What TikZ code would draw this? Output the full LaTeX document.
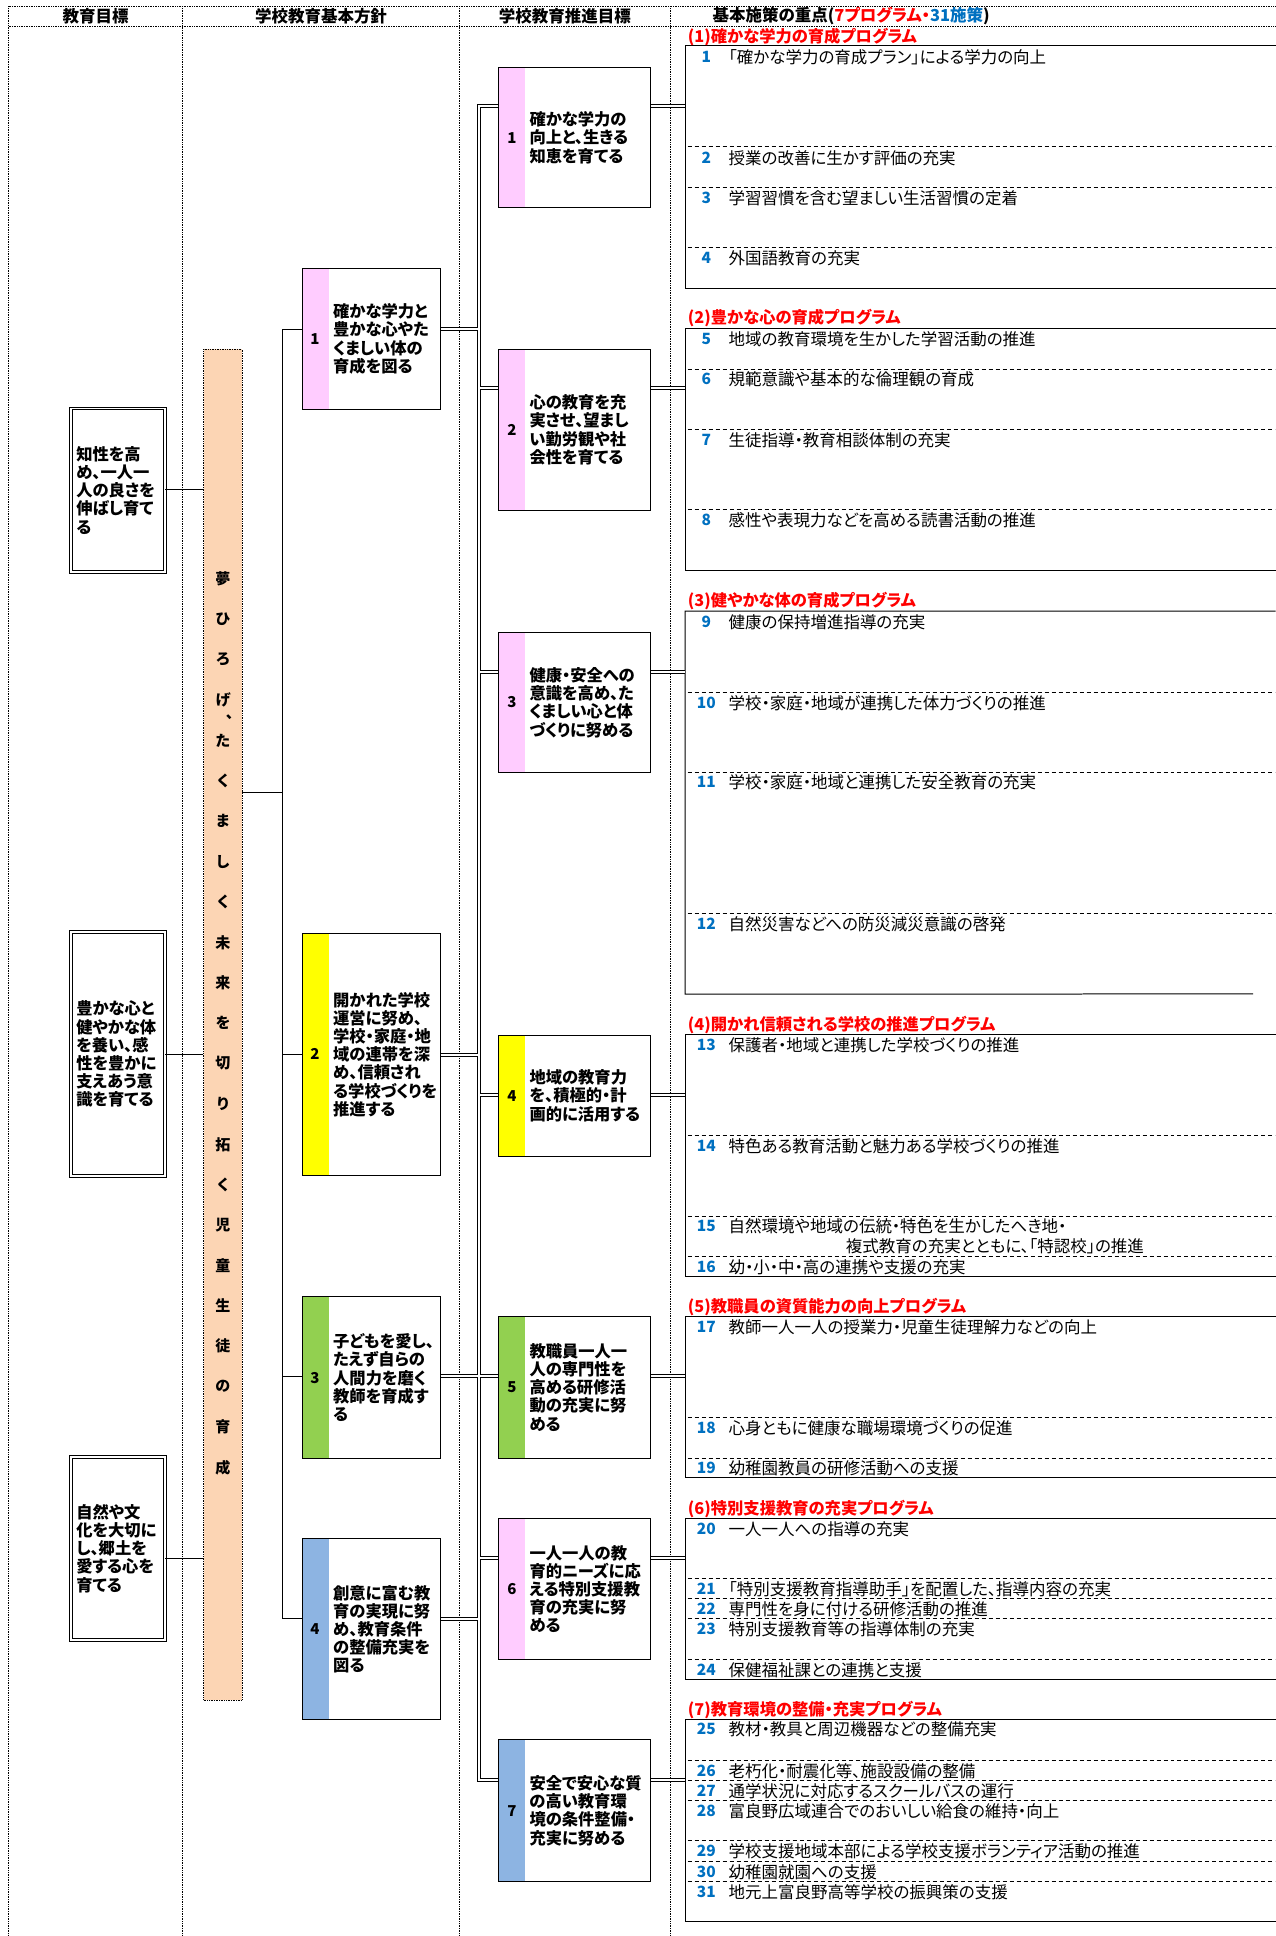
\documentclass[tikz,border=0pt]{standalone}
\usepackage{fontspec}
\setmainfont{Noto Sans CJK JP}[RawFeature=+palt]
\usepackage{xcolor}
\usetikzlibrary{positioning, fit, calc}

\definecolor{stripPink}{HTML}{FFCCFF}
\definecolor{stripYellow}{HTML}{FFFF00}
\definecolor{stripGreen}{HTML}{92D050}
\definecolor{stripBlue}{HTML}{8DB4E2}
\definecolor{barPeach}{HTML}{FCD5B4}
\definecolor{numBlue}{HTML}{0070C0}

\begin{document}
\begin{tikzpicture}[x=1.2353pt, y=-1.2353pt,
  sepline/.style={densely dotted, line width=0.7pt},
  aimbox/.style={draw, double, double distance=1.8pt, line width=1pt, inner sep=0},
  goalbox/.style={draw, line width=1pt, inner sep=0, fill=white,
    path picture={\fill[#1] (path picture bounding box.north west)
      rectangle ([xshift=26.5pt]path picture bounding box.south west);}},
  boxtext/.style={anchor=west, align=left, inner sep=0, font=\bfseries\fontsize{16.3}{18.2}\selectfont},
  boxnum/.style={inner sep=0, font=\bfseries\fontsize{15}{15}\selectfont},
  barchar/.style={inner sep=0, font=\bfseries\fontsize{15}{15}\selectfont},
  head/.style={inner sep=0, font=\bfseries\fontsize{16.5}{17}\selectfont},
  progtitle/.style={anchor=west, inner sep=0, text=red, font=\bfseries\fontsize{16.3}{16}\selectfont},
  itemnum/.style={inner sep=0, text=numBlue, font=\bfseries\fontsize{15.5}{15.5}\selectfont,
                  text height=12pt, text depth=2pt},
  itemtext/.style={anchor=west, inner sep=0, font=\fontsize{16.5}{16.5}\selectfont,
                   text height=14pt, text depth=2pt},
  divider/.style={dash pattern=on 4pt off 3pt, line width=0.8pt},
  link/.style={line width=1pt},
  dbl/.style={double, double distance=1.8pt, line width=1pt}
]
\useasboundingbox (0,0) rectangle (1033,1568);

% header and column rules
\draw[sepline] (7,5) -- (1033,5) (7,21) -- (1033,21);
\foreach \x in {7,148,372,543} \draw[sepline] (\x,5) -- (\x,1568);
\node[head] (hd1) at (77.5,13) {教育目標};
\node[head] (hd2) at (260,13) {学校教育基本方針};
\node[head] (hd3) at (457.5,13) {学校教育推進目標};
\node[head, anchor=west] (hd4) at (577,13)
  {基本施策の重点(\textcolor{red}{7プログラム・}\textcolor{numBlue}{31施策})};

% anchor points of the connectors
\coordinate (lb) at (228.5,642);
\foreach \k/\y in {1/266.6, 2/854.4, 3/1114.5, 4/1311} {
  \coordinate (e\k) at (228.5,\y);
  \coordinate (d\k) at (387.8,\y);
}
\foreach \k/\y in {1/86, 2/314, 3/544, 4/886.7, 5/1114.5, 6/1262, 7/1441.8}
  \coordinate (c\k) at (387.8,\y);

% vision bar
\node[fit={(165,283) (196,1377)}, inner sep=0, fill=barPeach, draw, densely dotted,
      line width=0.7pt] (vision) {};
\foreach \ch [count=\i from 0] in {夢,ひ,ろ,げ,た,く,ま,し,く,未,来,を,切,り,拓,く,児,童,生,徒,の,育,成}
  \node[barchar] (ch\i) at (180.5,469+32.7*\i) {\ch};
\node[barchar] (chc) at (186,581) {、};

% 教育目標
\node[aimbox, fit={(57.8,330.8) (133.6,463.3)}] (aim1) {};
\node[boxtext] (atx1) at ([xshift=5.2pt]aim1.west) {知性を高\\め、一人一\\人の良さを\\伸ばし育て\\る};
\node[aimbox, fit={(57.8,755) (133.6,952.5)}] (aim2) {};
\node[boxtext] (atx2) at ([xshift=5.2pt]aim2.west) {豊かな心と\\健やかな体\\を養い、感\\性を豊かに\\支えあう意\\識を育てる};
\node[aimbox, fit={(57.8,1180) (133.6,1328.2)}] (aim3) {};
\node[boxtext] (atx3) at ([xshift=5.2pt]aim3.west) {自然や文\\化を大切に\\し、郷土を\\愛する心を\\育てる};
\foreach \k/\y in {1/396.7, 2/854.3, 3/1262.3}
  \draw[link] (aim\k.east |- 0,\y) -- (vision.west |- 0,\y);

% 学校教育基本方針
\node[goalbox=stripPink, fit={(245,217.4) (356.5,331.6)}] (pol1) {};
\node[boxnum] (pn1) at ([xshift=13pt]pol1.west) {1};
\node[boxtext] (ptx1) at ([xshift=31pt]pol1.west) {確かな学力と\\豊かな心やた\\くましい体の\\育成を図る};
\node[goalbox=stripYellow, fit={(245,756) (356.5,952)}] (pol2) {};
\node[boxnum] (pn2) at ([xshift=13pt]pol2.west) {2};
\node[boxtext] (ptx2) at ([xshift=31pt]pol2.west) {開かれた学校\\運営に努め、\\学校・家庭・地\\域の連帯を深\\め、信頼され\\る学校づくりを\\推進する};
\node[goalbox=stripGreen, fit={(245,1050) (356.5,1181.5)}] (pol3) {};
\node[boxnum] (pn3) at ([xshift=13pt]pol3.west) {3};
\node[boxtext] (ptx3) at ([xshift=31pt]pol3.west) {子どもを愛し、\\たえず自らの\\人間力を磨く\\教師を育成す\\る};
\node[goalbox=stripBlue, fit={(245,1246) (356.5,1393)}] (pol4) {};
\node[boxnum] (pn4) at ([xshift=13pt]pol4.west) {4};
\node[boxtext] (ptx4) at ([xshift=31pt]pol4.west) {創意に富む教\\育の実現に努\\め、教育条件\\の整備充実を\\図る};

\draw[link] (lb -| vision.east) -- (lb);
\draw[link] (e1 -| pol1.west) -- (e1) -- (e4) -- (e4 -| pol4.west);
\draw[link] (e2) -- (e2 -| pol2.west) (e3) -- (e3 -| pol3.west);

% 学校教育推進目標
\node[goalbox=stripPink, fit={(404,54.7) (527,168.3)}] (goal1) {};
\node[boxnum] (gn1) at ([xshift=13.6pt]goal1.west) {1};
\node[boxtext] (gtx1) at ([xshift=31pt]goal1.west) {確かな学力の\\向上と、生きる\\知恵を育てる};
\node[goalbox=stripPink, fit={(404,282.8) (527,413.4)}] (goal2) {};
\node[boxnum] (gn2) at ([xshift=13.6pt]goal2.west) {2};
\node[boxtext] (gtx2) at ([xshift=31pt]goal2.west) {心の教育を充\\実させ、望まし\\い勤労観や社\\会性を育てる};
\node[goalbox=stripPink, fit={(404,512) (527,626)}] (goal3) {};
\node[boxnum] (gn3) at ([xshift=13.6pt]goal3.west) {3};
\node[boxtext] (gtx3) at ([xshift=31pt]goal3.west) {健康・安全への\\意識を高め、た\\くましい心と体\\づくりに努める};
\node[goalbox=stripYellow, fit={(404,838.4) (527,936.5)}] (goal4) {};
\node[boxnum] (gn4) at ([xshift=13.6pt]goal4.west) {4};
\node[boxtext] (gtx4) at ([xshift=31pt]goal4.west) {地域の教育力\\を、積極的・計\\画的に活用する};
\node[goalbox=stripGreen, fit={(404,1066) (527,1181)}] (goal5) {};
\node[boxnum] (gn5) at ([xshift=13.6pt]goal5.west) {5};
\node[boxtext] (gtx5) at ([xshift=31pt]goal5.west) {教職員一人一\\人の専門性を\\高める研修活\\動の充実に努\\める};
\node[goalbox=stripPink, fit={(404,1230) (527,1344)}] (goal6) {};
\node[boxnum] (gn6) at ([xshift=13.6pt]goal6.west) {6};
\node[boxtext] (gtx6) at ([xshift=31pt]goal6.west) {一人一人の教\\育的ニーズに応\\える特別支援教\\育の充実に努\\める};
\node[goalbox=stripBlue, fit={(404,1409) (527,1524)}] (goal7) {};
\node[boxnum] (gn7) at ([xshift=13.6pt]goal7.west) {7};
\node[boxtext] (gtx7) at ([xshift=31pt]goal7.west) {安全で安心な質\\の高い教育環\\境の条件整備・\\充実に努める};

% 基本施策の重点
\node[fit={(555,37.3) (1033,233.1)}, inner sep=0] (prog1) {};
\node[fit={(555,266.6) (1033,462.2)}, inner sep=0] (prog2) {};
\node[fit={(555,495.2) (1033,805)}, inner sep=0] (prog3) {};
\node[fit={(555,837.9) (1033,1034)}, inner sep=0] (prog4) {};
\node[fit={(555,1066.4) (1033,1196.7)}, inner sep=0] (prog5) {};
\node[fit={(555,1229.9) (1033,1360.3)}, inner sep=0] (prog6) {};
\node[fit={(555,1392.4) (1033,1556.1)}, inner sep=0] (prog7) {};
\coordinate (p3end) at (1015,805);
\foreach \k in {1,2,4,5,6,7}
  \draw[link] (prog\k.north east) -- (prog\k.north west) -- (prog\k.south west) -- (prog\k.south east);
\draw[link] (prog3.north east) -- (prog3.north west) -- (prog3.south west) -- (p3end);

\node[progtitle] (ttl1) at (557,30) {(1)確かな学力の育成プログラム};
\node[progtitle] (ttl2) at (557,257.6) {(2)豊かな心の育成プログラム};
\node[progtitle] (ttl3) at (557,487) {(3)健やかな体の育成プログラム};
\node[progtitle] (ttl4) at (557,829.8) {(4)開かれ信頼される学校の推進プログラム};
\node[progtitle] (ttl5) at (557,1058.6) {(5)教職員の資質能力の向上プログラム};
\node[progtitle] (ttl6) at (557,1222.4) {(6)特別支援教育の充実プログラム};
\node[progtitle] (ttl7) at (557,1384.8) {(7)教育環境の整備・充実プログラム};

\foreach \y in {118.8,152.1,200.7, 298.9,348.1,412.9, 560.7,625.2,739.9,
                919.3,984.9,1017.3, 1148.2,1181.1, 1278.5,1294.4,1310.9,1343.8,
                1426.1,1442.3,1458.5,1490.9,1507.6,1523.8}
  \draw[divider] (557,\y) -- (1033,\y);

\foreach \n/\y/\t in {
  1/46.5/{「確かな学力の育成プラン」による学力の向上},
  2/128/{授業の改善に生かす評価の充実},
  3/160.8/{学習習慣を含む望ましい生活習慣の定着},
  4/209.3/{外国語教育の充実},
  5/274.9/{地域の教育環境を生かした学習活動の推進},
  6/307.6/{規範意識や基本的な倫理観の育成},
  7/356.8/{生徒指導・教育相談体制の充実},
  8/421.5/{感性や表現力などを高める読書活動の推進},
  9/504/{健康の保持増進指導の充実},
  10/569.4/{学校・家庭・地域が連携した体力づくりの推進},
  11/634.1/{学校・家庭・地域と連携した安全教育の充実},
  12/748.8/{自然災害などへの防災減災意識の啓発},
  13/846.8/{保護者・地域と連携した学校づくりの推進},
  14/928.2/{特色ある教育活動と魅力ある学校づくりの推進},
  15/993.5/{自然環境や地域の伝統・特色を生かしたへき地・},
  16/1026.2/{幼・小・中・高の連携や支援の充実},
  17/1074.8/{教師一人一人の授業力・児童生徒理解力などの向上},
  18/1157/{心身ともに健康な職場環境づくりの促進},
  19/1189.4/{幼稚園教員の研修活動への支援},
  20/1239/{一人一人への指導の充実},
  21/1287.1/{「特別支援教育指導助手」を配置した、指導内容の充実},
  22/1303.3/{専門性を身に付ける研修活動の推進},
  23/1320.1/{特別支援教育等の指導体制の充実},
  24/1352.7/{保健福祉課との連携と支援},
  25/1401/{教材・教具と周辺機器などの整備充実},
  26/1434.8/{老朽化・耐震化等、施設設備の整備},
  27/1450.9/{通学状況に対応するスクールバスの運行},
  28/1467.1/{富良野広域連合でのおいしい給食の維持・向上},
  29/1499.5/{学校支援地域本部による学校支援ボランティア活動の推進},
  30/1516.5/{幼稚園就園への支援},
  31/1532.7/{地元上富良野高等学校の振興策の支援}} {
  \node[itemnum] (num\n) at (572,\y) {\n};
  \node[itemtext] (item\n) at (590,\y) {\t};
}
\node[itemtext] (item15b) at (685,1009.7) {複式教育の充実とともに、「特認校」の推進};

% double-line tree
\draw[dbl] (d1 -| pol1.east) -- (d1) (d2 -| pol2.east) -- (d2)
           (d3 -| pol3.east) -- (d3) (d4 -| pol4.east) -- (d4)
           (c1 -| goal1.west) -- (c1) -- (c7) -- (c7 -| goal7.west)
           (c2) -- (c2 -| goal2.west) (c3) -- (c3 -| goal3.west)
           (c4) -- (c4 -| goal4.west) (c5) -- (c5 -| goal5.west)
           (c6) -- (c6 -| goal6.west);
\draw[dbl] (c1 -| goal1.east) -- (c1 -| prog1.west) (c2 -| goal2.east) -- (c2 -| prog2.west)
           (c3 -| goal3.east) -- (c3 -| prog3.west) (c4 -| goal4.east) -- (c4 -| prog4.west)
           (c5 -| goal5.east) -- (c5 -| prog5.west) (c6 -| goal6.east) -- (c6 -| prog6.west)
           (c7 -| goal7.east) -- (c7 -| prog7.west);
\end{tikzpicture}
\end{document}
